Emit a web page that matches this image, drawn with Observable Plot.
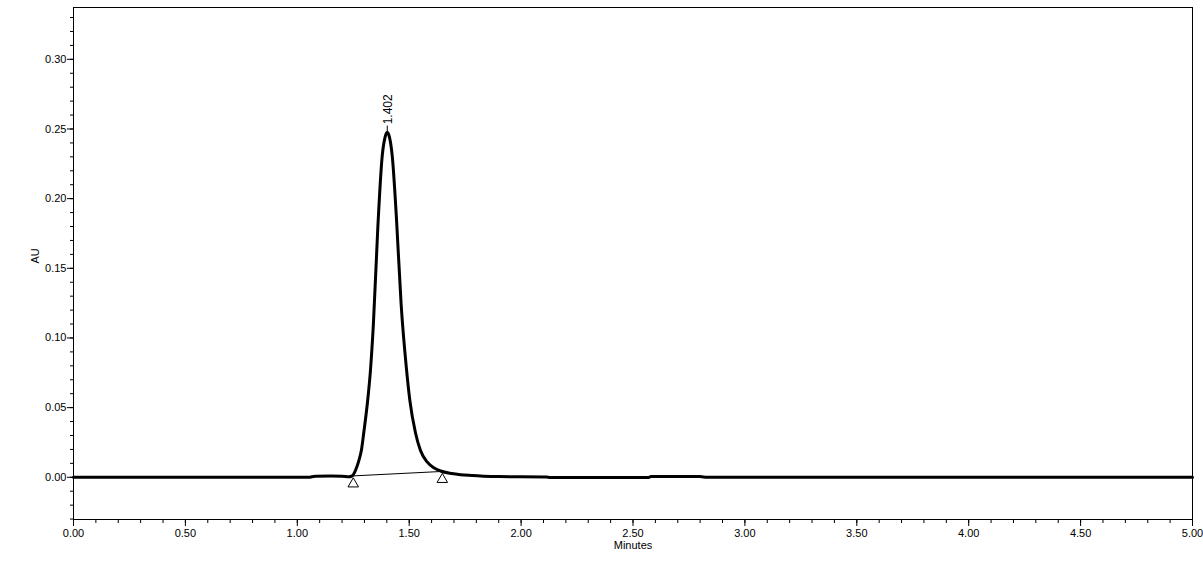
<!DOCTYPE html>
<html>
<head>
<meta charset="utf-8">
<script src="https://cdn.jsdelivr.net/npm/d3@7"></script>
<script src="https://cdn.jsdelivr.net/npm/@observablehq/plot@0.6"></script>
<style>
  html, body { margin: 0; padding: 0; background: #fff; }
  #chart { width: 1203px; height: 581px; }
</style>
</head>
<body>
<div id="chart"></div>
<script>
// Chromatogram trace (minutes, AU)
const times = [0.00, 0.50, 1.00, 1.05, 1.08, 1.15, 1.20, 1.23, 1.245, 1.26, 1.275, 1.287, 1.297, 1.315, 1.327, 1.340, 1.360, 1.379, 1.392, 1.402, 1.412, 1.424, 1.443, 1.464, 1.487, 1.503, 1.528, 1.550, 1.580, 1.610, 1.640, 1.690, 1.729, 1.780, 1.819, 1.900, 2.000, 2.113, 2.13, 2.30, 2.57, 2.58, 2.70, 2.80, 2.83, 3.00, 3.50, 4.00, 4.50, 5.00];
const au    = [0.000, 0.000, 0.000, 0.000, 0.0008, 0.0009, 0.0008, 0.0003, 0.0010, 0.0050, 0.0120, 0.0200, 0.0320, 0.0560, 0.0770, 0.1100, 0.1800, 0.2300, 0.2440, 0.2476, 0.2440, 0.2310, 0.1860, 0.1240, 0.0790, 0.0550, 0.0320, 0.0194, 0.0110, 0.0068, 0.0045, 0.0027, 0.0019, 0.0013, 0.0009, 0.0005, 0.0003, 0.0002, -0.0002, -0.0002, -0.0002, 0.0005, 0.0006, 0.0005, 0.0000, 0.0000, 0.0000, 0.0000, 0.0000, 0.0000];

// Peak annotation
const peakTimes = [1.402];
const peakHeights = [0.2476];
const peakLabels = ["1.402"];

// Integration baseline (start / end markers)
const baseTimes = [1.250, 1.648];
const baseHeights = [0.0010, 0.0042];

// Axis ticks
const xMajor = [0, 0.5, 1, 1.5, 2, 2.5, 3, 3.5, 4, 4.5, 5];
const xMinor = d3.range(0, 50.5, 1).map(d => d / 10);
const yMajor = [0, 0.05, 0.10, 0.15, 0.20, 0.25, 0.30];
const yMinor = d3.range(-3, 33.5, 1).map(d => d / 100);

const trace = times.map((t, i) => ({t, v: au[i]}));
const peaks = peakTimes.map((t, i) => ({t, v: peakHeights[i], label: peakLabels[i]}));
const base = baseTimes.map((t, i) => ({t, v: baseHeights[i]}));

const font = "'Liberation Sans', Arial, sans-serif";

const chart = Plot.plot({
  width: 1203,
  height: 581,
  marginLeft: 73,
  marginRight: 11,
  marginTop: 7,
  marginBottom: 62,
  style: {fontFamily: font, fontSize: "11px", background: "#fff", color: "#000"},
  x: {domain: [0, 5]},
  y: {domain: [-0.0303, 0.3372]},
  marks: [
    Plot.frame({stroke: "#000"}),
    Plot.axisX({ticks: xMinor, tickSize: 4, text: null, label: null}),
    Plot.axisX({ticks: xMajor, tickSize: 7, tickPadding: 3, tickFormat: d3.format(".2f"), label: null}),
    Plot.axisY({ticks: yMinor, tickSize: 3, text: null, label: null}),
    Plot.axisY({ticks: yMajor, tickSize: 6, tickPadding: 1, tickFormat: d3.format(".2f"), label: null}),
    Plot.text(["Minutes"], {frameAnchor: "bottom", dy: 29, text: d => d}),
    Plot.text(["AU"], {frameAnchor: "left", dx: -38, rotate: -90, text: d => d}),
    Plot.line(base, {x: "t", y: "v", stroke: "#000", strokeWidth: 1}),
    Plot.line(trace, {x: "t", y: "v", stroke: "#000", strokeWidth: 3, curve: "monotone-x", strokeLinejoin: "round"}),
    Plot.dot(base, {x: "t", y: "v", symbol: "triangle", r: 3.9, fill: "#fff", stroke: "#000", strokeWidth: 1, dy: 8}),
    Plot.ruleX(peaks, {x: "t", y1: "v", y2: d => d.v + 0.0045, stroke: "#000", strokeWidth: 1}),
    Plot.text(peaks, {x: "t", y: "v", text: "label", rotate: -90, textAnchor: "start", dy: -8, dx: 1, fontSize: 12})
  ]
});
document.getElementById("chart").append(chart);
</script>
</body>
</html>
